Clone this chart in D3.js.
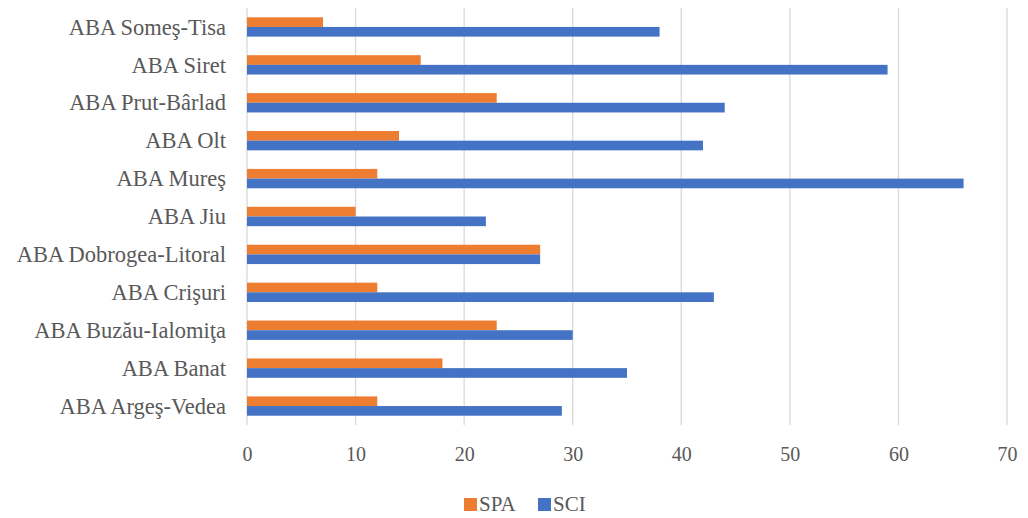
<!DOCTYPE html>
<html><head><meta charset="utf-8">
<script src="https://cdn.jsdelivr.net/npm/d3@7"></script>
<style>body{margin:0;background:#fff}svg{display:block}
svg text{font-family:"Liberation Serif","DejaVu Serif",serif;}</style>
</head><body>
<svg id="chart" width="1028" height="518"></svg>
<script>
const categories = ["ABA Someş-Tisa","ABA Siret","ABA Prut-Bârlad","ABA Olt","ABA Mureş","ABA Jiu","ABA Dobrogea-Litoral","ABA Crişuri","ABA Buzău-Ialomiţa","ABA Banat","ABA Argeş-Vedea"];
const spaValues = [7,16,23,14,12,10,27,12,23,18,12];
const sciValues = [38,59,44,42,66,22,27,43,30,35,29];
const seriesNames = ["SPA","SCI"];
const xTicks = [0,10,20,30,40,50,60,70];

const colors = {SPA:"#ED7D31", SCI:"#4472C4"};
const textColor = "#595959";

const svg = d3.select("#chart");
const m = {left:247, right:21, top:8, bottom:93};
const W = 1028, H = 518;
const x = d3.scaleLinear().domain([0,70]).range([m.left, W - m.right]);
const y = d3.scaleBand().domain(categories).range([m.top, H - m.bottom]).paddingInner(0.49).paddingOuter(0.245);
const sub = d3.scaleBand().domain(seriesNames).range([0, y.bandwidth()]);

svg.append("g").selectAll("line").data(xTicks).join("line")
  .attr("x1", d => x(d)).attr("x2", d => x(d))
  .attr("y1", m.top).attr("y2", H - m.bottom)
  .attr("stroke", "#d9d9d9").attr("stroke-width", 1.3);

const data = categories.map((c,i) => ({cat:c, SPA:spaValues[i], SCI:sciValues[i]}));

const g = svg.append("g");
seriesNames.forEach(s => {
  g.selectAll(".b"+s).data(data).join("rect")
    .attr("x", x(0))
    .attr("y", d => y(d.cat) + sub(s))
    .attr("width", d => x(d[s]) - x(0))
    .attr("height", sub.bandwidth())
    .attr("fill", colors[s]);
});

const yAxis = d3.axisLeft(y).tickSize(0).tickPadding(21);
const ya = svg.append("g").attr("transform", `translate(${m.left},0)`).call(yAxis);
ya.select(".domain").remove();
ya.selectAll("text").attr("font-size", 22.5).attr("fill", textColor).attr("dy", "0.34em");

const xAxis = d3.axisBottom(x).tickValues(xTicks).tickSize(0).tickPadding(22);
const xa = svg.append("g").attr("transform", `translate(0,${H - m.bottom})`).call(xAxis);
xa.select(".domain").remove();
xa.selectAll("text").attr("font-size", 20).attr("fill", textColor);

const legend = svg.append("g").attr("transform", "translate(464,498)");
const lx = [0, 74];
seriesNames.forEach((s,i) => {
  const lg = legend.append("g").attr("transform", `translate(${lx[i]},0)`);
  lg.append("rect").attr("width", 13).attr("height", 13).attr("fill", colors[s]);
  lg.append("text").attr("x", 15).attr("y", 13).text(s)
    .attr("font-size", 21).attr("fill", textColor);
});
</script>
</body></html>
